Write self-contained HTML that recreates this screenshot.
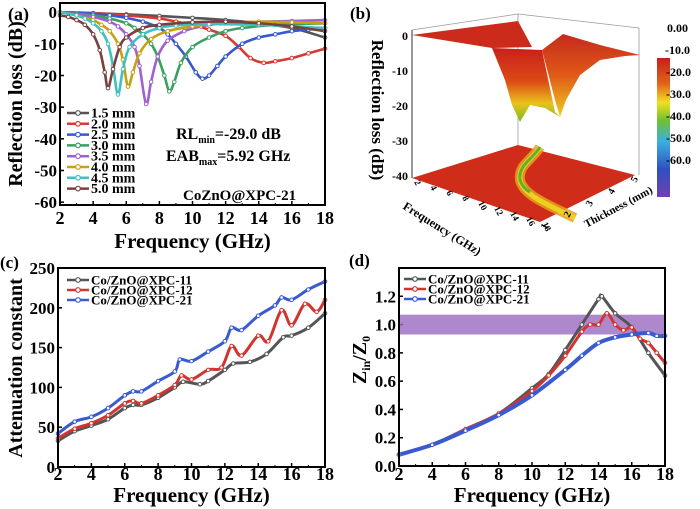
<!DOCTYPE html>
<html><head><meta charset="utf-8"><style>
body{margin:0;background:#fff;}
svg{display:block;}
svg text{font-family:"Liberation Serif",serif;font-weight:bold;}
</style></head><body>
<svg id="fig" width="700" height="509" viewBox="0 0 700 509">
<defs>
<linearGradient id="surfG" x1="0" y1="0" x2="0" y2="1">
<stop offset="0" stop-color="#c8201a"/><stop offset="0.45" stop-color="#dd4a16"/><stop offset="0.75" stop-color="#e8c21c"/><stop offset="1" stop-color="#7dbb22"/></linearGradient>
<linearGradient id="humpG" x1="0" y1="0" x2="0" y2="1">
<stop offset="0" stop-color="#c62a1c"/><stop offset="0.5" stop-color="#e05a18"/><stop offset="1" stop-color="#eecf1e"/></linearGradient>
<linearGradient id="cbar" x1="0" y1="0" x2="0" y2="1">
<stop offset="0" stop-color="#c8201a"/><stop offset="0.18" stop-color="#e0601a"/><stop offset="0.32" stop-color="#f0e020"/><stop offset="0.45" stop-color="#70c030"/><stop offset="0.6" stop-color="#3ab0e0"/><stop offset="0.8" stop-color="#3050c0"/><stop offset="1" stop-color="#7040b0"/></linearGradient>
</defs>
<g id="pa"></g><g id="pc"></g><g id="pd"></g>
<g id="pb">
<text x="350" y="19" font-size="17">(b)</text>
<line x1="412" y1="30" x2="518" y2="14" stroke="#999" stroke-width="0.8"/>
<line x1="518" y1="14" x2="639" y2="28" stroke="#999" stroke-width="0.8"/>
<line x1="518" y1="14" x2="518" y2="145" stroke="#999" stroke-width="0.8"/>
<line x1="639" y1="28" x2="639" y2="175" stroke="#999" stroke-width="0.8"/>
<line x1="412" y1="30" x2="412" y2="178" stroke="#333" stroke-width="1"/>
<polygon points="412,178 518,145 635,175 540,222" fill="#cf2c1a"/>
<path d="M540,147 C532,160 518,165 520,180 C523,195 548,205 575,218" fill="none" stroke="#e8a020" stroke-width="10" opacity="0.85"/>
<path d="M540,147 C532,160 518,165 520,180 C523,195 548,205 575,218" fill="none" stroke="#eed020" stroke-width="5"/>
<path d="M540,147 C532,160 518,165 520,180 C522,186 526,190 530,192" fill="none" stroke="#60b030" stroke-width="3"/>
<polygon points="412,35 518,21 532,47 492,48" fill="#cc2a1a"/>
<polygon points="492,48 542,50 555,112 560,117 545,108 530,105 520,122 512,105 505,80" fill="url(#surfG)"/>
<polygon points="542,50 563,34 600,45 640,55 625,56 600,60 580,75 566,100 560,117 555,100" fill="url(#humpG)"/>
<g font-size="12" text-anchor="end">
<text x="408" y="40">0</text><text x="408" y="75">-10</text><text x="408" y="110">-20</text><text x="408" y="145">-30</text><text x="408" y="180">-40</text></g>
<text transform="translate(372,110) rotate(90)" font-size="17" text-anchor="middle">Reflection loss (dB)</text>
<g font-size="9" id="bfreq"></g>
<text transform="translate(440,232) rotate(32)" font-size="12" text-anchor="middle">Frequency (GHz)</text>
<text transform="translate(620,210) rotate(-28)" font-size="11" text-anchor="middle">Thickness (mm)</text>
<g font-size="10"><text transform="translate(546,230) rotate(-62)">1</text><text transform="translate(569,218) rotate(-62)">2</text><text transform="translate(591,207) rotate(-62)">3</text><text transform="translate(613,195) rotate(-62)">4</text><text transform="translate(636,183) rotate(-62)">5</text></g>
<rect x="657" y="58" width="13" height="139" fill="url(#cbar)"/>
<g font-size="12">
<text x="667" y="32">0.00</text><text x="665" y="54">-10.0</text><text x="666" y="76">-20.0</text><text x="666" y="98">-30.0</text><text x="666" y="120">-40.0</text><text x="666" y="142">-50.0</text><text x="666" y="164">-60.0</text></g>
</g>
</svg>
<script>
// ---------- data ----------
const aThick=["1.5 mm","2.0 mm","2.5 mm","3.0 mm","3.5 mm","4.0 mm","4.5 mm","5.0 mm"];
const aColors=["#555555","#d63a30","#3858d0","#3aa060","#a060d0","#c8a010","#40c0c0","#7a4040"];
const aF15=[2,4,6,8,10,12,14,16,18];const aR15=[0,-0.3,-0.7,-1.2,-1.8,-2.5,-3.5,-5,-8];
const aF20=[2,4,6,8,9,10,11,12,12.8,13.5,14.3,15,16,17,18];const aR20=[0,-0.3,-1,-2,-3,-4,-5.5,-7.5,-11,-14.5,-16,-15.5,-14.5,-13,-11.5];
const aF25=[2,4,5,6,7,8,8.5,9,9.6,10.2,10.6,11,11.5,12,13,14,15,16,17,18];const aR25=[0,-0.5,-1,-1.8,-3,-5,-7,-10,-14,-19,-21,-20,-17,-14,-10,-8,-7,-6,-5.5,-5];
const aF30=[2,3,4,5,6,6.5,7,7.5,7.9,8.3,8.6,8.9,9.3,10,11,12,13,15,18];const aR30=[0,-0.5,-1,-2,-3.5,-5,-7,-10,-14,-20,-25,-22,-16,-11,-8,-6,-5,-4,-3.5];
const aF35=[2,3,4,5,5.5,6,6.5,6.8,7.2,7.5,7.9,8.5,9.5,10.5,12,14,16,18];const aR35=[0,-0.7,-1.5,-3,-4.5,-7,-11,-17,-29,-22,-14,-9,-6,-4.5,-3.5,-3,-2.8,-2.5];
const aF40=[2,3,4,4.5,5,5.5,5.8,6.1,6.4,6.8,7.5,8.5,10,12,14,16,18];const aR40=[0,-1,-2.5,-4,-6,-10,-15,-23.5,-19,-13,-8.5,-6,-4.5,-3.5,-3,-3.2,-3.5];
const aF45=[2,3,3.5,4,4.5,4.9,5.2,5.5,5.8,6.2,7,8,9,11,14,16,18];const aR45=[0,-1,-2,-3.5,-6,-10,-17,-26,-18,-11,-7,-5,-4.2,-3.8,-4,-4.5,-5];
const aF50=[2,2.5,3,3.5,4,4.4,4.7,4.9,5.2,5.6,6,7,8,10,12,14,16,18];const aR50=[-1,-1.5,-2.5,-4,-7,-12,-19,-24,-18,-11,-8,-5,-4,-3.2,-3,-3.5,-4.5,-6];
const aFreq=[aF15,aF20,aF25,aF30,aF35,aF40,aF45,aF50];const aRL=[aR15,aR20,aR25,aR30,aR35,aR40,aR45,aR50];
const aYTicks=[0,-10,-20,-30,-40,-50,-60];const xTicks=[2,4,6,8,10,12,14,16,18];

const sNames=["Co/ZnO@XPC-11","Co/ZnO@XPC-12","Co/ZnO@XPC-21"];const sColors=["#555555","#d03530","#3a5ad0"];
const cF11=[2,3,4,5,6,6.5,7,8,9,9.5,10.5,11,12,12.5,13.5,14.5,15.5,16,17,18];const cV11=[33,45,52,60,74,78,78,87,100,107,104,108,122,130,132,142,163,165,175,193];
const cF12=[2,3,4,5,6,6.5,7,8,9,9.4,10,11,11.8,12.4,13,14,14.6,15.4,16,16.8,17.5,18];const cV12=[36,48,55,65,80,83,80,90,103,115,110,122,125,152,140,165,158,197,178,205,195,210];
const cF21=[2,3,4,5,6,6.5,7,8,9,9.3,10,11,12,12.4,13,14,15,15.4,16,17,18];const cV21=[42,57,63,74,90,95,95,108,120,135,133,145,158,175,172,190,203,213,210,223,233];
const cYTicks=[0,50,100,150,200,250];
const dF11=[2,4,6,8,10,11,12,13,14,14.2,15,16,17,18];const dV11=[0.08,0.15,0.26,0.37,0.55,0.65,0.82,1.0,1.18,1.2,1.08,0.98,0.8,0.64];
const dF12=[2,4,6,8,10,11,12,13,13.5,14,14.5,15,15.5,16,16.5,17,17.5,18];const dV12=[0.08,0.15,0.26,0.37,0.53,0.64,0.78,0.95,1.0,1.0,1.08,1.0,0.96,0.98,0.9,0.87,0.8,0.73];
const dF21=[2,4,6,8,10,12,13,14,15,16,17,17.5,18];const dV21=[0.08,0.15,0.25,0.36,0.5,0.68,0.78,0.87,0.91,0.93,0.94,0.92,0.92];
const dYTicks=[0.0,0.2,0.4,0.6,0.8,1.0,1.2];const dBand=[0.93,1.07];

const NS="http://www.w3.org/2000/svg";
function mk(p,t,a){const e=document.createElementNS(NS,t);for(const k in a)e.setAttribute(k,a[k]);p.appendChild(e);return e;}
function smooth(pts){let d="M"+pts[0][0]+","+pts[0][1];for(let i=0;i<pts.length-1;i++){const p0=pts[Math.max(0,i-1)],p1=pts[i],p2=pts[i+1],p3=pts[Math.min(pts.length-1,i+2)];
d+=" C"+(p1[0]+(p2[0]-p0[0])/6)+","+(p1[1]+(p2[1]-p0[1])/6)+" "+(p2[0]-(p3[0]-p1[0])/6)+","+(p2[1]-(p3[1]-p1[1])/6)+" "+p2[0]+","+p2[1];}return d;}
function panel(g,box,ymin,ymax,yTicks,fmt,tOff,titleOff){
 const X=v=>box.x0+(v-2)/16*(box.x1-box.x0);const Y=v=>box.y1-(v-ymin)/(ymax-ymin)*(box.y1-box.y0);
 xTicks.forEach(t=>{const e=mk(g,"text",{x:X(t),y:box.y1+tOff,"font-size":18,"text-anchor":"middle"});e.textContent=t;
  
  
  mk(g,"line",{x1:X(t),x2:X(t),y1:box.y1,y2:box.y1-4,stroke:"#000","stroke-width":1.5});
  if(t<18)mk(g,"line",{x1:X(t+1),x2:X(t+1),y1:box.y1,y2:box.y1-2,stroke:"#000","stroke-width":1});});
 yTicks.forEach(t=>{const e=mk(g,"text",{x:box.x0-3,y:Y(t)+6,"font-size":17,"text-anchor":"end"});e.textContent=fmt(t);
  
  
  mk(g,"line",{x1:box.x0,x2:box.x0+4,y1:Y(t),y2:Y(t),stroke:"#000","stroke-width":1.5});});
 const t=mk(g,"text",{x:(box.x0+box.x1)/2,y:box.y1+titleOff,"font-size":21,"text-anchor":"middle"});t.textContent="Frequency (GHz)";
 
 
 return {X,Y};}
function series(g,F,V,X,Y,col,w){const pts=F.map((f,i)=>[X(f),Y(V[i])]);
 const p=mk(g,"path",{d:smooth(pts),fill:"none",stroke:col,"stroke-width":w});
 
 
 pts.forEach(q=>{const c=mk(g,"circle",{cx:q[0],cy:q[1],r:1.8,fill:"#fff",stroke:col,"stroke-width":1});
  
  });}
function legend(g,x,y0,dy,names,cols,fs){names.forEach((n,i)=>{const y=y0+i*dy;
 mk(g,"line",{x1:x,x2:x+22,y1:y,y2:y,stroke:cols[i],"stroke-width":2.5});
 mk(g,"circle",{cx:x+11,cy:y,r:2.3,fill:"#fff",stroke:cols[i],"stroke-width":1.2});
 const e=mk(g,"text",{x:x+24,y:y+4.5,"font-size":fs});e.textContent=n;
 
 });}
function txt(g,x,y,s,fs,name,extra){const e=mk(g,"text",Object.assign({x:x,y:y,"font-size":fs},extra||{}));e.textContent=s;
 
 return e;}

// panel a
const ga=document.getElementById("pa");


const A=panel(ga,{x0:60,x1:325,y0:3,y1:205},-60.9,2.9,aYTicks,v=>v,19,43);
aFreq.forEach((F,i)=>series(ga,F,aRL[i],A.X,A.Y,aColors[i],2.6));
mk(ga,"rect",{x:60,y:3,width:265,height:202,fill:"none",stroke:"#000","stroke-width":2});
legend(ga,67,113,10.8,aThick,aColors,14);
txt(ga,8,20,"(a)",18,"panel-label-a");
txt(ga,22,104,"Reflection loss (dB)",20,"y-axis-title-a",{transform:"rotate(-90 22 104)","text-anchor":"middle"});
const rl=txt(ga,176,139,"",16,"rl-min-annotation");rl.innerHTML='RL<tspan font-size="10" dy="4">min</tspan><tspan dy="-4">=-29.0 dB</tspan>';
const eab=txt(ga,166,161,"",16,"eab-max-annotation");eab.innerHTML='EAB<tspan font-size="10" dy="4">max</tspan><tspan dy="-4">=5.92 GHz</tspan>';
txt(ga,183,200,"CoZnO@XPC-21",15,"sample-name");

// panel c
const gc=document.getElementById("pc");


const C=panel(gc,{x0:58,x1:325,y0:268,y1:467},0,250,cYTicks,v=>v,13,35);
series(gc,cF11,cV11,C.X,C.Y,sColors[0],3);series(gc,cF12,cV12,C.X,C.Y,sColors[1],3);series(gc,cF21,cV21,C.X,C.Y,sColors[2],3);
mk(gc,"rect",{x:58,y:268,width:267,height:199,fill:"none",stroke:"#000","stroke-width":2});
legend(gc,67,280,10,sNames,sColors,13);
txt(gc,0,268,"(c)",17,"panel-label-c");
txt(gc,22,368,"Attenuation constant",20,"y-axis-title-c",{transform:"rotate(-90 22 368)","text-anchor":"middle"});

// panel d
const gd=document.getElementById("pd");


const D=panel(gd,{x0:399,x1:665,y0:268,y1:466},0,1.4,dYTicks,v=>v.toFixed(1),14,36);
const band=mk(gd,"rect",{x:399,y:D.Y(dBand[1]),width:266,height:D.Y(dBand[0])-D.Y(dBand[1]),fill:"#9a6ac0",opacity:0.8});


series(gd,dF11,dV11,D.X,D.Y,sColors[0],3);series(gd,dF12,dV12,D.X,D.Y,sColors[1],3);series(gd,dF21,dV21,D.X,D.Y,sColors[2],4);
mk(gd,"rect",{x:399,y:268,width:266,height:198,fill:"none",stroke:"#000","stroke-width":2});
legend(gd,404,279,10,sNames,sColors,13);
txt(gd,349,266,"(d)",17,"panel-label-d");
const zl=txt(gd,366,360,"",20,"y-axis-title-d",{transform:"rotate(-90 366 360)","text-anchor":"middle"});
zl.innerHTML='Z<tspan font-size="12" dy="4">in</tspan><tspan dy="-4">/Z</tspan><tspan font-size="12" dy="4">0</tspan>';

// panel b frequency ticks
const bF=[2,4,6,8,10,12,14,16,18];const gbf=document.getElementById("bfreq");
bF.forEach((f,i)=>{const x=412+(540-412)*(f-2)/16+2,y=182+(224-182)*(f-2)/16;
 const e=mk(gbf,"text",{transform:"translate("+x+","+y+") rotate(62)"});e.textContent=f;
 
 });
</script>
</body></html>
